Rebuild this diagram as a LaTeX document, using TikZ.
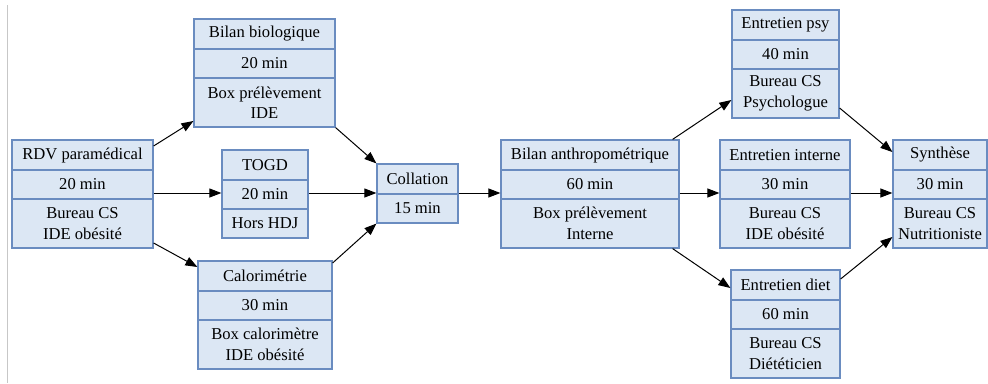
\documentclass[tikz,border=0pt]{standalone}
\usepackage{fontspec}
\setmainfont{Liberation Serif}
\usetikzlibrary{arrows.meta,fit,calc}
\definecolor{boxfill}{HTML}{DCE7F4}
\definecolor{boxdraw}{HTML}{6A8CC0}
\tikzset{
  recbox/.style={draw=boxdraw, fill=boxfill, line width=1.2pt, inner sep=0pt, rectangle},
  rowsep/.style={draw=boxdraw, line width=1.2pt},
  celltxt/.style={inner sep=0pt, align=center, font=\fontsize{16.6}{20.5}\selectfont},
  flow/.style={draw=black, line width=1pt, -{Triangle[length=12pt,width=9pt]}},
}
\newcommand\mkbox[5]{\node[recbox, fit={(#2,#3)(#4,#5)}] (#1) {};}
\newcommand\mkrow[2]{\draw[rowsep] (#1.west |- 0,#2) -- (#1.east |- 0,#2);}
\newcommand\mkcell[4]{\node[celltxt] (#1-#2) at (#1.center |- 0,#3) {#4};}
\begin{document}
\begin{tikzpicture}[x=1pt,y=-1pt]
\useasboundingbox (0,0) rectangle (988,383);
\draw[black!22, line width=1pt] (7,5) -- (7,383);

% RDV paramedical
\mkbox{rdv}{12}{140}{153}{248}
\mkrow{rdv}{170}\mkrow{rdv}{199}
\mkcell{rdv}{a}{155}{RDV paramédical}
\mkcell{rdv}{b}{184.5}{20 min}
\mkcell{rdv}{c}{223.5}{Bureau CS\\IDE obésité}

% Bilan biologique
\mkbox{bio}{194}{19}{335}{127}
\mkrow{bio}{49}\mkrow{bio}{78}
\mkcell{bio}{a}{34}{Bilan biologique}
\mkcell{bio}{b}{63.5}{20 min}
\mkcell{bio}{c}{102.5}{Box prélèvement\\IDE}

% TOGD
\mkbox{togd}{222}{150}{308}{238}
\mkrow{togd}{180}\mkrow{togd}{209}
\mkcell{togd}{a}{165}{TOGD}
\mkcell{togd}{b}{194.5}{20 min}
\mkcell{togd}{c}{223.5}{Hors HDJ}

% Calorimetrie
\mkbox{calo}{198}{261}{332}{369}
\mkrow{calo}{291}\mkrow{calo}{320}
\mkcell{calo}{a}{276}{Calorimétrie}
\mkcell{calo}{b}{305.5}{30 min}
\mkcell{calo}{c}{344.5}{Box calorimètre\\IDE obésité}

% Collation
\mkbox{coll}{377}{164}{458}{223}
\mkrow{coll}{194}
\mkcell{coll}{a}{179}{Collation}
\mkcell{coll}{b}{208.5}{15 min}

% Bilan anthropometrique
\mkbox{anth}{501}{140}{679}{248}
\mkrow{anth}{170}\mkrow{anth}{199}
\mkcell{anth}{a}{155}{Bilan anthropométrique}
\mkcell{anth}{b}{184.5}{60 min}
\mkcell{anth}{c}{223.5}{Box prélèvement\\Interne}

% Entretien psy
\mkbox{psy}{732}{10}{839}{118}
\mkrow{psy}{40}\mkrow{psy}{69}
\mkcell{psy}{a}{25}{Entretien psy}
\mkcell{psy}{b}{54.5}{40 min}
\mkcell{psy}{c}{93.5}{Bureau CS\\Psychologue}

% Entretien interne
\mkbox{int}{720}{140}{850}{248}
\mkrow{int}{170}\mkrow{int}{199}
\mkcell{int}{a}{155}{Entretien interne}
\mkcell{int}{b}{184.5}{30 min}
\mkcell{int}{c}{223.5}{Bureau CS\\IDE obésité}

% Entretien diet
\mkbox{diet}{731}{270}{840}{378}
\mkrow{diet}{300}\mkrow{diet}{329}
\mkcell{diet}{a}{285}{Entretien diet}
\mkcell{diet}{b}{314.5}{60 min}
\mkcell{diet}{c}{353.5}{Bureau CS\\Diététicien}

% Synthese
\mkbox{syn}{893}{140}{987}{248}
\mkrow{syn}{170}\mkrow{syn}{199}
\mkcell{syn}{a}{155}{Synthèse}
\mkcell{syn}{b}{184.5}{30 min}
\mkcell{syn}{c}{223.5}{Bureau CS\\Nutritioniste}

% connectors
\draw[flow] (rdv.east |- 0,146) -- (bio.west |- 0,121);
\draw[flow] (rdv.east |- 0,193) -- (togd.west |- 0,193);
\draw[flow] (rdv.east |- 0,243) -- (calo.west |- 0,267);
\draw[flow] (bio.south east) -- (coll.north west);
\draw[flow] (togd.east |- 0,193) -- (coll.west |- 0,193);
\draw[flow] (calo.east |- 0,263) -- (coll.south west);
\draw[flow] (coll.east |- 0,193) -- (anth.west |- 0,193);
\draw[flow] (anth.north east) ++(-7,0) -- (psy.west |- 0,100);
\draw[flow] (anth.east |- 0,193) -- (int.west |- 0,193);
\draw[flow] (anth.south east) ++(-7,0) -- (diet.west |- 0,288);
\draw[flow] (psy.east |- 0,108) -- (syn.west |- 0,152);
\draw[flow] (int.east |- 0,193) -- (syn.west |- 0,193);
\draw[flow] (diet.east |- 0,279) -- (syn.west |- 0,237);
\end{tikzpicture}
\end{document}
